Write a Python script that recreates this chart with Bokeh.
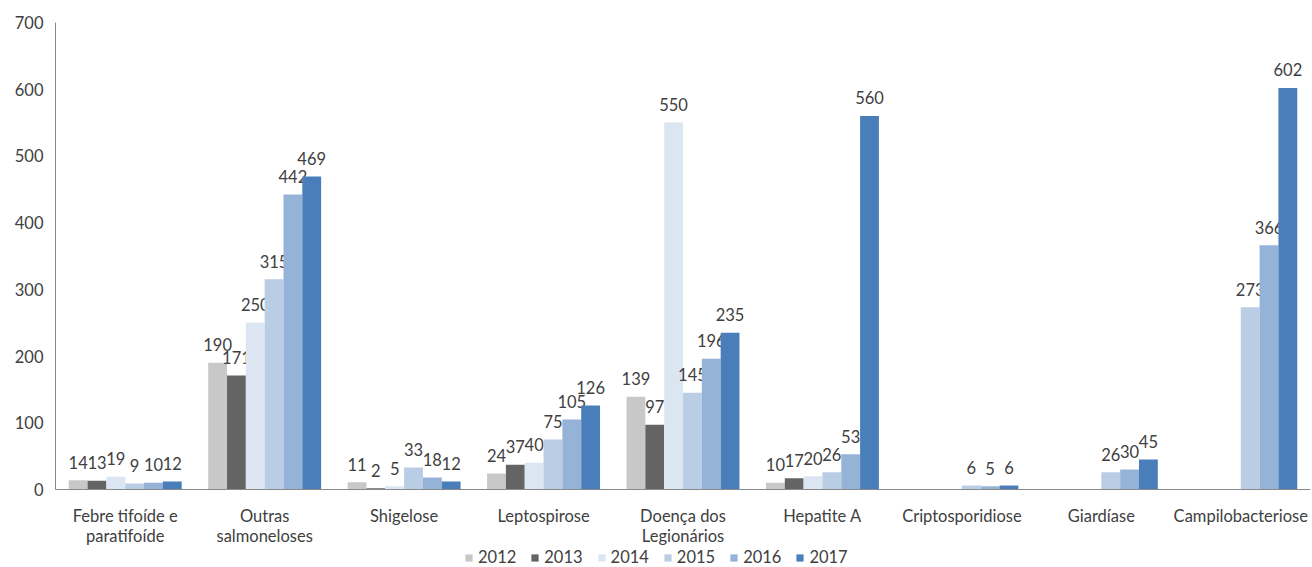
import math
from bokeh.plotting import figure
from bokeh.layouts import column
from bokeh.models import ColumnDataSource, Range1d, FixedTicker, Legend, LegendItem
from bokeh.transform import dodge
from bokeh.core.properties import value
from bokeh.embed import file_html
from bokeh.resources import INLINE

nan = float("nan")

categories = ["Febre tifoíde e\nparatifoíde", "Outras\nsalmoneloses", "Shigelose", "Leptospirose",
              "Doença dos\nLegionários", "Hepatite A", "Criptosporidiose", "Giardíase", "Campilobacteriose"]
years = ["2012", "2013", "2014", "2015", "2016", "2017"]
v2012 = [14, 190, 11, 24, 139, 10, nan, nan, nan]
v2013 = [13, 171, 2, 37, 97, 17, nan, nan, nan]
v2014 = [19, 250, 5, 40, 550, 20, nan, nan, nan]
v2015 = [9, 315, 33, 75, 145, 26, 6, 26, 273]
v2016 = [10, 442, 18, 105, 196, 53, 5, 30, 366]
v2017 = [12, 469, 12, 126, 235, 560, 6, 45, 602]
series = [v2012, v2013, v2014, v2015, v2016, v2017]
colors = ["#C8C8C8", "#646464", "#DCE6F2", "#B9CDE5", "#95B3D7", "#4A7EBB"]
yticks = [0, 100, 200, 300, 400, 500, 600, 700]

FONT = "Lato"
FS = "16.5px"
TXT = "#404040"

p = figure(width=1312, height=548, output_backend="svg", toolbar_location=None,
           x_range=Range1d(-0.5, len(categories) - 0.5), y_range=Range1d(0, 700),
           min_border_left=55, min_border_right=2, min_border_top=22, min_border_bottom=50)
p.outline_line_color = None
p.grid.visible = False

bw = 0.135
xs = list(range(len(categories)))
for i, (yr, vals, col) in enumerate(zip(years, series, colors)):
    src = ColumnDataSource(dict(x=xs, top=[0 if math.isnan(v) else v for v in vals]))
    off = (i - 2.5) * bw
    p.vbar(x=dodge("x", off), top="top", width=bw, source=src, fill_color=col, line_color=None)
    lx = [x for x, v in zip(xs, vals) if not math.isnan(v)]
    lv = [v for v in vals if not math.isnan(v)]
    lsrc = ColumnDataSource(dict(x=lx, y=lv, t=[str(int(v)) for v in lv]))
    p.text(x=dodge("x", off), y="y", text="t", source=lsrc, text_align="center",
           text_baseline="alphabetic", y_offset=-18, text_font=value(FONT),
           text_font_size=FS, text_color=TXT)

p.yaxis.ticker = FixedTicker(ticks=yticks)
p.yaxis.major_tick_line_color = None
p.yaxis.minor_tick_line_color = None
p.yaxis.axis_line_color = "#898989"
p.yaxis.major_label_text_font = FONT
p.yaxis.major_label_text_font_size = FS
p.yaxis.major_label_text_color = TXT
p.yaxis.major_label_standoff = 6

p.xaxis.ticker = FixedTicker(ticks=xs)
p.xaxis.major_label_overrides = {i: c for i, c in enumerate(categories)}
p.xaxis.major_tick_line_color = None
p.xaxis.minor_tick_line_color = None
p.xaxis.axis_line_color = "#898989"
p.xaxis.major_label_text_font = FONT
p.xaxis.major_label_text_font_size = FS
p.xaxis.major_label_text_color = TXT
p.xaxis.major_label_text_line_height = 1.0
p.xaxis.major_label_standoff = 10

# legend strip below the chart (its zero-width bars lie far outside its view; only the legend shows)
lg = figure(width=1312, height=19, output_backend="svg", toolbar_location=None,
            x_range=Range1d(100, 101), y_range=Range1d(5000, 5001),
            min_border_left=0, min_border_right=0, min_border_top=0, min_border_bottom=0)
lg.axis.visible = False
lg.grid.visible = False
lg.outline_line_color = None
items = []
for yr, vals, col in zip(years, series, colors):
    r = lg.vbar(x=xs, top=[0 if math.isnan(v) else v for v in vals], width=0,
                fill_color=col, line_color=None)
    items.append(LegendItem(label=yr, renderers=[r]))
legend = Legend(items=items, orientation="horizontal", location=(409, 0),
                label_text_font=FONT, label_text_font_size=FS, label_text_color=TXT,
                glyph_width=9, glyph_height=9, spacing=14, label_standoff=5, label_height=16,
                background_fill_alpha=0, border_line_color=None, padding=0, margin=0)
lg.add_layout(legend, "center")

open("out.html", "w").write(file_html(column(p, lg, spacing=0), INLINE))
